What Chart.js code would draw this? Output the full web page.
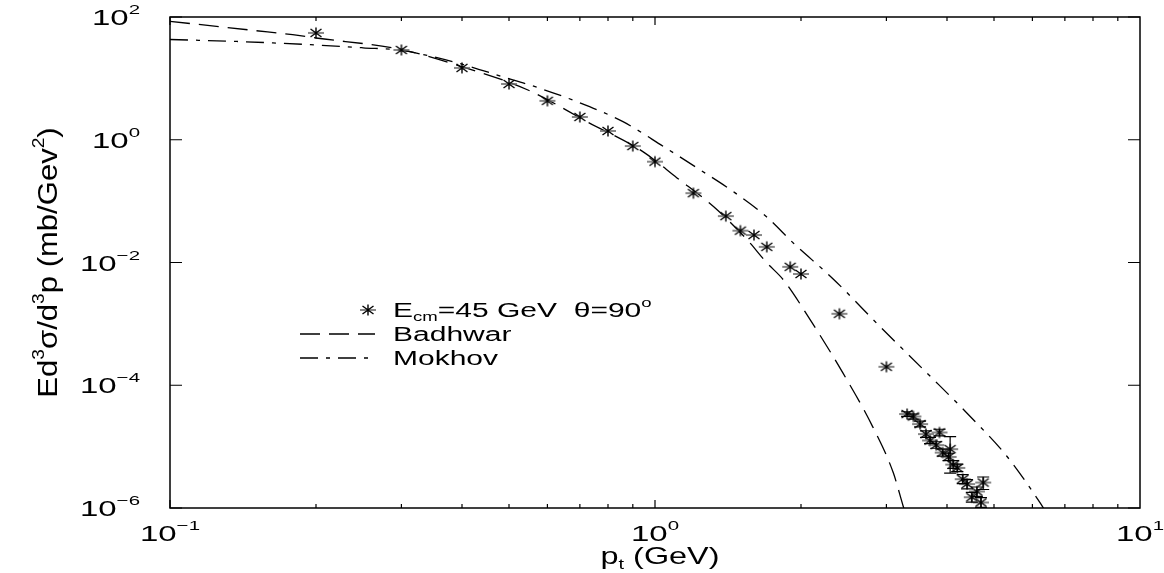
<!DOCTYPE html>
<html><head><meta charset="utf-8">
<script src="https://cdn.jsdelivr.net/npm/chart.js@4.4.1/dist/chart.umd.min.js"></script>
<style>html,body{margin:0;padding:0;background:#fff;overflow:hidden}#wrap{width:1164px;height:573px}</style>
</head><body><div id="wrap"><canvas id="c" width="1164" height="573"></canvas></div>
<script>
// ---- data ----
const ptData = [0.2,0.3,0.4,0.5,0.6,0.7,0.8,0.9,1.0,1.2,1.4,1.5,1.6,1.7,1.9,2.0,2.4,3.0,
  3.31,3.41,3.52,3.62,3.69,3.80,3.86,3.92,4.03,4.06,4.12,4.20,4.31,4.40,4.50,4.61,4.70,4.75];
const sigmaData = [55,29,14.8,8.1,4.3,2.35,1.39,0.79,0.44,0.135,0.057,0.033,0.028,0.018,0.0085,0.0065,0.00146,2.0e-4,
  3.4e-5,3.1e-5,2.33e-5,1.6e-5,1.26e-5,1.06e-5,1.7e-5,8.0e-6,6.8e-6,9.1e-6,5.1e-6,4.5e-6,2.95e-6,2.45e-6,1.5e-6,1.86e-6,1.23e-6,2.6e-6];
const errLow = [null,null,null,null,null,null,null,null,null,null,null,null,null,null,null,null,null,null,
  3.1e-5,2.8e-5,2.1e-5,1.42e-5,1.12e-5,9.4e-6,1.5e-5,7.0e-6,5.9e-6,3.7e-6,4.4e-6,3.9e-6,2.5e-6,2.05e-6,1.25e-6,1.55e-6,1.02e-6,2.0e-6];
const errHigh = [null,null,null,null,null,null,null,null,null,null,null,null,null,null,null,null,null,null,
  3.7e-5,3.4e-5,2.6e-5,1.8e-5,1.42e-5,1.2e-5,1.92e-5,9.1e-6,7.8e-6,1.46e-5,5.9e-6,5.2e-6,3.5e-6,2.9e-6,1.8e-6,2.2e-6,1.48e-6,3.2e-6];
const badhwarPt  = [0.1,0.15,0.179,0.2,0.3,0.4,0.547,0.724,0.944,1.11,1.32,1.55,1.70,1.84,2.09,2.44,2.81,3.10,3.25,3.35];
const badhwarVal = [85,60,51.5,45.5,29.5,15.5,6.47,1.97,0.64,0.239,0.0815,0.0233,0.0099,0.0052,0.00116,1.59e-4,2.12e-5,3.74e-6,1.06e-6,5e-7];
const mokhovPt  = [0.1,0.137,0.2,0.25,0.3,0.4,0.487,0.552,0.69,0.859,1.04,1.24,1.45,1.70,1.93,2.33,2.91,3.64,4.40,5.32,6.22,6.5];
const mokhovVal = [43,40,35,31.5,28.5,17,10.5,7.8,4.18,1.97,0.78,0.322,0.143,0.055,0.0206,0.0054,9.04e-4,1.57e-4,3.5e-5,6.9e-6,1.22e-6,7e-7];
const xTickExponents = [-1,0,1];
const yTickExponents = [2,0,-2,-4,-6];
const seriesLabels = ['E_cm=45 GeV  θ=90°','Badhwar','Mokhov'];

const FONT = '"Liberation Sans", Arial, Helvetica, sans-serif';
const SX = 1.5; // horizontal text stretch of the reference

function makeStar(){
  const c = document.createElement('canvas'); c.width = 20; c.height = 14;
  const g = c.getContext('2d');
  g.lineCap = 'butt';
  g.strokeStyle = '#6a6a6a'; g.lineWidth = 1.6;
  g.beginPath(); g.moveTo(2,7); g.lineTo(18,7); g.stroke();
  g.strokeStyle = '#000'; g.lineWidth = 1.4;
  g.beginPath();
  g.moveTo(10,1.5); g.lineTo(10,12.5);
  g.moveTo(4.5,3); g.lineTo(15.5,11);
  g.moveTo(4.5,11); g.lineTo(15.5,3);
  g.stroke();
  return c;
}
const starImg = makeStar();

function richWidth(ctx, parts, size){
  let w = 0;
  for (const [t,m] of parts){
    const s = m==='n' ? size : size*0.62;
    ctx.font = s + 'px ' + FONT;
    w += ctx.measureText(t).width;
  }
  return w;
}
function drawRich(ctx, parts, x, y, size, sx, align, rot){
  ctx.save();
  ctx.translate(x,y);
  if (rot) ctx.rotate(rot);
  ctx.scale(sx,1);
  ctx.fillStyle = '#000';
  ctx.textBaseline = 'alphabetic';
  ctx.textAlign = 'left';
  const w = richWidth(ctx, parts, size);
  let cx = align==='center' ? -w/2 : (align==='right' ? -w : 0);
  for (const [t,m] of parts){
    const s = m==='n' ? size : size*0.62;
    ctx.font = s + 'px ' + FONT;
    const dy = m==='sup' ? -size*0.5 : (m==='sub' ? size*0.22 : 0);
    ctx.fillText(t, cx, dy);
    cx += ctx.measureText(t).width;
  }
  ctx.restore();
}
function expParts(e){ return [['10','n'],[(e<0?'\u2212':'')+Math.abs(e),'sup']]; }

const decor = {
  id:'decor',
  afterDatasetsDraw(chart){
    const ctx = chart.ctx, ys = chart.scales.y;
    const meta = chart.getDatasetMeta(0);
    ctx.save();
    ctx.strokeStyle = '#000'; ctx.lineWidth = 1.2;
    meta.data.forEach((p,i)=>{
      if (errLow[i]==null) return;
      const yl = ys.getPixelForValue(errLow[i]), yh = ys.getPixelForValue(errHigh[i]);
      ctx.beginPath();
      ctx.moveTo(p.x, yl); ctx.lineTo(p.x, yh);
      ctx.moveTo(p.x-6, yl); ctx.lineTo(p.x+6, yl);
      ctx.moveTo(p.x-6, yh); ctx.lineTo(p.x+6, yh);
      ctx.stroke();
    });
    ctx.restore();
  },
  afterDraw(chart){
    const ctx = chart.ctx, xs = chart.scales.x, ys = chart.scales.y, a = chart.chartArea;
    ctx.save();
    ctx.strokeStyle = '#000'; ctx.lineWidth = 1.5;
    ctx.strokeRect(a.left, a.top, a.right-a.left, a.bottom-a.top);
    ctx.lineWidth = 1.2;
    ctx.beginPath();
    for (let d=xTickExponents[0]; d<xTickExponents[xTickExponents.length-1]; d++){
      for (let m=1; m<=9; m++){
        const v = m*Math.pow(10,d);
        const px = xs.getPixelForValue(v);
        const len = m===1 ? 8 : 4;
        ctx.moveTo(px, a.bottom); ctx.lineTo(px, a.bottom-len);
        ctx.moveTo(px, a.top); ctx.lineTo(px, a.top+len);
      }
    }
    for (const e of yTickExponents){
      const py = ys.getPixelForValue(Math.pow(10,e));
      ctx.moveTo(a.left, py); ctx.lineTo(a.left+12, py);
      ctx.moveTo(a.right, py); ctx.lineTo(a.right-12, py);
    }
    ctx.stroke();
    ctx.restore();

    for (const e of xTickExponents){
      const px = xs.getPixelForValue(Math.pow(10,e));
      drawRich(ctx, expParts(e), px, a.bottom+33, 22, SX, 'center', 0);
    }
    for (const e of yTickExponents){
      const py = ys.getPixelForValue(Math.pow(10,e));
      drawRich(ctx, expParts(e), a.left-30, py+8, 22, SX, 'right', 0);
    }
    drawRich(ctx, [['p','n'],['t','sub'],[' (GeV)','n']], (a.left+a.right)/2+5, a.bottom+56, 24, 1.35, 'center', 0);
    drawRich(ctx, [['Ed','n'],['3','sup'],['σ/d','n'],['3','sup'],['p (mb/Gev','n'],['2','sup'],[')','n']],
      57, (a.top+a.bottom)/2, 27, 1.15, 'center', -Math.PI/2);

    const ds = chart.data.datasets;
    const lx0 = 300, lx1 = 375, tx = 393;
    const rows = [310, 334, 358];
    ctx.drawImage(starImg, 368-10, rows[0]-7);
    drawRich(ctx, [['E','n'],['cm','sub'],['=45 GeV  θ=90','n'],['o','sup']], tx, rows[0]+7, 20, SX, 'left', 0);
    for (let k=1;k<=2;k++){
      ctx.save();
      ctx.strokeStyle = '#000'; ctx.lineWidth = 1.3;
      ctx.setLineDash(ds[k].borderDash);
      ctx.beginPath(); ctx.moveTo(lx0, rows[k]); ctx.lineTo(lx1, rows[k]); ctx.stroke();
      ctx.restore();
      drawRich(ctx, [[seriesLabels[k],'n']], tx, rows[k]+7, 20, SX, 'left', 0);
    }
  }
};

const toXY = (xs, ys) => xs.map((x,i)=>({x, y: ys[i]}));

new Chart(document.getElementById('c'), {
  type:'scatter',
  data:{ datasets:[
    { label: seriesLabels[0], data: toXY(ptData, sigmaData), showLine:false,
      pointStyle: starImg, pointRadius: 7, borderColor:'#000', backgroundColor:'#000' },
    { label: seriesLabels[1], data: toXY(badhwarPt, badhwarVal), showLine:true, pointRadius:0,
      borderColor:'#000', borderWidth:1.3, borderDash:[20,9], cubicInterpolationMode:'monotone', fill:false },
    { label: seriesLabels[2], data: toXY(mokhovPt, mokhovVal), showLine:true, pointRadius:0,
      borderColor:'#000', borderWidth:1.3, borderDash:[18,8,4,8], cubicInterpolationMode:'monotone', fill:false }
  ]},
  options:{
    responsive:false, animation:false, devicePixelRatio:1,
    layout:{ padding:{ left:170, right:24, top:17, bottom:65 } },
    plugins:{ legend:{display:false}, tooltip:{enabled:false} },
    events:[],
    scales:{
      x:{ type:'logarithmic', min:0.1, max:10, display:false },
      y:{ type:'logarithmic', min:1e-6, max:100, display:false }
    }
  },
  plugins:[decor]
});
</script>
</body></html>
